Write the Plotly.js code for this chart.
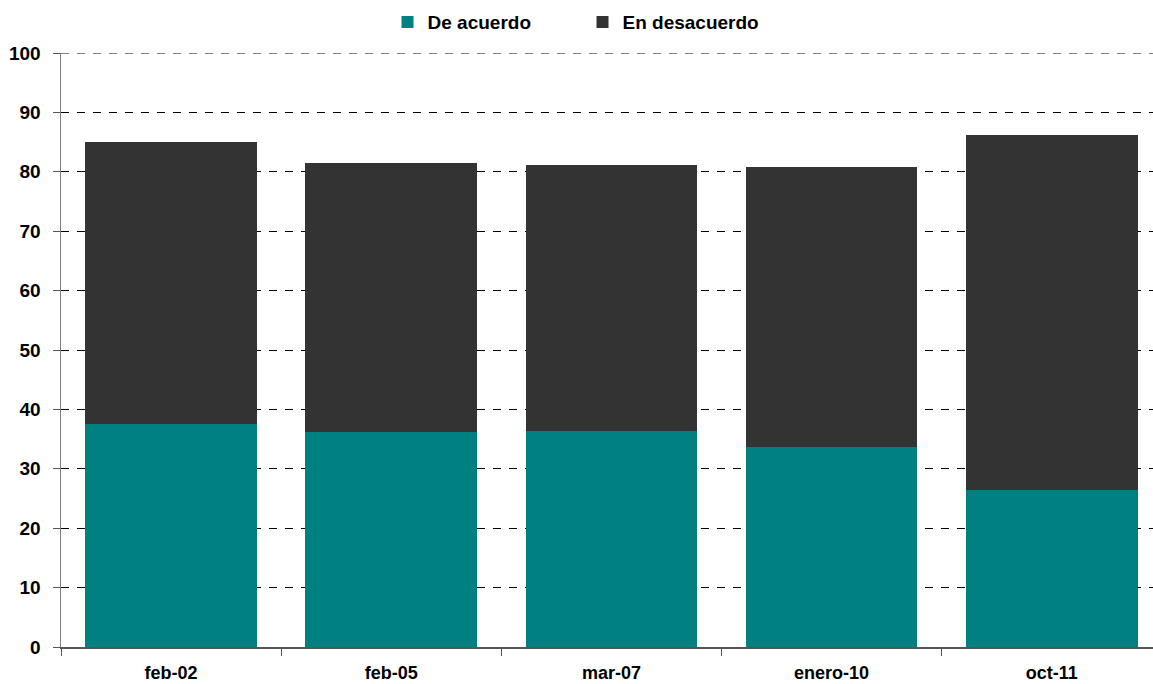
<!DOCTYPE html>
<html>
<head>
<meta charset="utf-8">
<script src="https://cdn.plot.ly/plotly-3.0.1.min.js"></script>
<style>html,body{margin:0;padding:0;background:#fff;}#chart{width:1153px;height:684px;}</style>
</head>
<body>
<div id="chart"></div>
<script>
const categories = ["feb-02", "feb-05", "mar-07", "enero-10", "oct-11"];
const deAcuerdo = [37.5, 36.2, 36.3, 33.6, 26.4];
const enDesacuerdo = [47.5, 45.2, 44.9, 47.2, 59.8];
const seriesNames = ["De acuerdo", "En desacuerdo"];
const yTicks = [0, 10, 20, 30, 40, 50, 60, 70, 80, 90, 100];
const yMax = 100;

const font = {family: "Liberation Sans, Arial, sans-serif", size: 19, color: "#000", weight: "bold"};
const xFont = {family: "Liberation Sans, Arial, sans-serif", size: 18, color: "#000", weight: "bold"};

const data = [
  {type: "bar", name: seriesNames[0], x: categories, y: deAcuerdo, marker: {color: "#008080"}},
  {type: "bar", name: seriesNames[1], x: categories, y: enDesacuerdo, marker: {color: "#333333"}}
];

const layout = {
  width: 1153, height: 684,
  margin: {l: 61, r: 0, t: 53, b: 37},
  barmode: "stack",
  bargap: 0.22,
  paper_bgcolor: "#fff", plot_bgcolor: "#fff",
  font: font,
  showlegend: true,
  legend: {
    orientation: "h", x: 0.299, xanchor: "left", y: 1.052, yanchor: "middle",
    font: {family: "Liberation Sans, Arial, sans-serif", size: 19, color: "#000", weight: "bold"},
    entrywidth: 150, entrywidthmode: "pixels", traceorder: "normal"
  },
  xaxis: {
    type: "category", range: [-0.5, 4.46],
    showline: true, linecolor: "#555", linewidth: 1.5,
    ticks: "outside", ticklen: 7, tickcolor: "#555", tickson: "boundaries",
    showgrid: false, tickfont: xFont, ticklabelstandoff: 9, fixedrange: true
  },
  yaxis: {
    range: [0, yMax], tickvals: yTicks,
    showline: true, linecolor: "#808080", linewidth: 1.5,
    ticks: "outside", ticklen: 7, tickcolor: "#555",
    showgrid: true, gridcolor: "#000", gridwidth: 1, griddash: "8px,8px",
    zeroline: false, tickfont: font, ticklabelstandoff: 8, fixedrange: true
  },
  shapes: [{
    type: "line", xref: "paper", yref: "y", x0: 0, x1: 1, y0: yMax, y1: yMax,
    line: {color: "#000", width: 1, dash: "8px,8px"}, layer: "below"
  }]
};

Plotly.newPlot("chart", data, layout, {displayModeBar: false, staticPlot: true});
</script>
</body>
</html>
